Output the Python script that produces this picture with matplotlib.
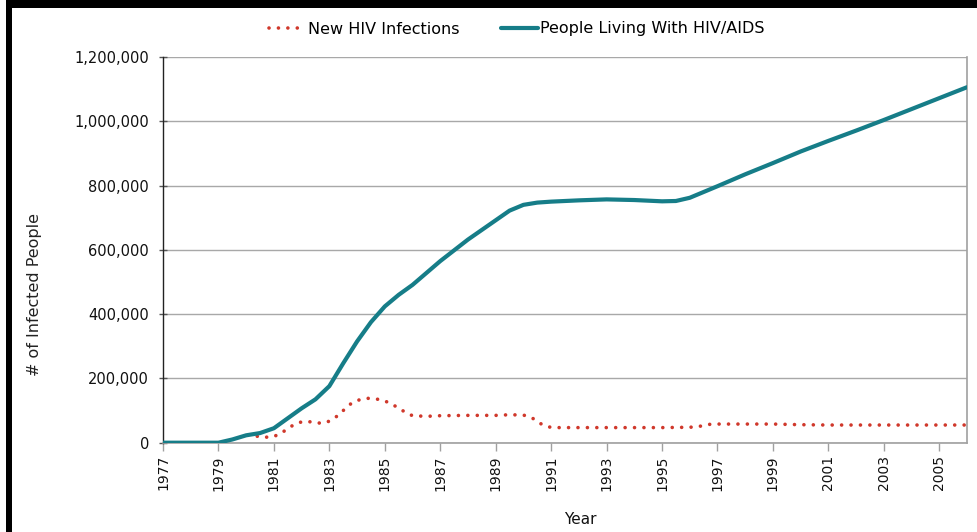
import matplotlib
matplotlib.use("Agg")
import matplotlib.pyplot as plt
from matplotlib.patches import Rectangle

# ---- data ----
living_years = [1977, 1978, 1979, 1979.5, 1980, 1980.5, 1981, 1981.5, 1982, 1982.5,
                1983, 1983.5, 1984, 1984.5, 1985, 1985.5, 1986, 1987, 1988, 1989,
                1989.5, 1990, 1990.5, 1991, 1992, 1993, 1994, 1995, 1995.5, 1996,
                1996.5, 1997, 1998, 1999, 2000, 2001, 2002, 2003, 2004, 2005, 2006]
living_values = [0, 0, 0, 10000, 23000, 30000, 45000, 76000, 107000, 135000,
                 176000, 247000, 315000, 375000, 424000, 460000, 491000, 565000, 632000, 692000,
                 722000, 740000, 747000, 750000, 754000, 757000, 755000, 751000, 752000, 762000,
                 780000, 798000, 835000, 870000, 906000, 939000, 971000, 1004000, 1038000, 1072000, 1106000]

new_years = [1980.4, 1980.7, 1981.0, 1981.3, 1981.7, 1982.0, 1982.3, 1982.6, 1982.9,
             1983.2, 1983.5, 1983.8, 1984.1, 1984.4, 1984.7, 1985.0, 1985.3, 1985.5,
             1985.8, 1986.0, 1986.5, 1987, 1988, 1989, 1989.5, 1990.0, 1990.3, 1990.6,
             1990.9, 1991.2, 1992, 1993, 1994, 1995, 1996, 1996.3, 1996.7, 1997, 1998,
             1999, 2000, 2001, 2002, 2003, 2004, 2005, 2006]
new_values = [20000, 17000, 19000, 32000, 55000, 65000, 65000, 61000, 63000,
              77000, 100000, 123000, 134000, 138000, 136000, 130000, 118000, 107000,
              92000, 84000, 82000, 84000, 85000, 85000, 87000, 86000, 78000, 60000,
              49000, 47000, 47000, 47000, 47000, 47000, 48000, 50000, 57000, 58000, 58000,
              58000, 56000, 55000, 55000, 55000, 55000, 55000, 55000]

x_ticks = list(range(1977, 2006, 2))
y_ticks = [0, 200000, 400000, 600000, 800000, 1000000, 1200000]

series_names = ["New HIV Infections", "People Living With HIV/AIDS"]

W, H = 977, 532
fig = plt.figure(figsize=(W / 100, H / 100), dpi=100)
fig.patch.set_facecolor("white")

left, right, top, bottom = 163, 967, 57, 442.7
ax = fig.add_axes([left / W, 1 - bottom / H, (right - left) / W, (bottom - top) / H])

red = "#D0382B"
teal = "#167D88"

l_new, = ax.plot(new_years, new_values, color=red, lw=2.6, linestyle=(0, (0.01, 2.6)),
                 dash_capstyle="round", zorder=3, label=series_names[0])
l_liv, = ax.plot(living_years, living_values, color=teal, lw=3.0, solid_capstyle="round",
                 solid_joinstyle="round", zorder=4, label=series_names[1])

ax.set_xlim(1977, 2006)
ax.set_ylim(0, 1200000)
ax.set_xticks(x_ticks)
ax.set_xticklabels([str(t) for t in x_ticks], rotation=90, fontsize=10, color="#111111")
ax.set_yticks(y_ticks)
ax.set_yticklabels([f"{v:,}" for v in y_ticks], fontsize=10.5, color="#111111")

ax.grid(axis="y", color="#A8A8A8", lw=1.0)
ax.set_axisbelow(True)
ax.spines["top"].set_visible(False)
ax.spines["left"].set_color("#222222")
ax.spines["left"].set_linewidth(1.0)
ax.spines["bottom"].set_color("#A0A0A0")
ax.spines["right"].set_color("#A0A0A0")
ax.spines["bottom"].set_linewidth(1.2)
ax.spines["right"].set_linewidth(1.2)
ax.tick_params(axis="y", direction="inout", length=6, width=1, color="#555555", pad=7)
ax.tick_params(axis="x", direction="out", length=6, width=1, color="#A0A0A0", pad=3)

fig.text(35 / W, 1 - 295 / H, "# of Infected People", rotation=90, ha="center", va="center",
         fontsize=11.5, color="#222222")
fig.text(580 / W, 1 - 520 / H, "Year", ha="center", va="center", fontsize=11, color="#111111")

fig.legend(handles=[l_new, l_liv], labels=series_names, loc="center",
           bbox_to_anchor=(517 / W, 1 - 29 / H), ncol=2, frameon=False, fontsize=11.5,
           handlelength=2.3, handletextpad=0.15, columnspacing=2.6)

# black border pieces of the original picture
fig.patches.append(Rectangle((6 / W, 0), 6 / W, 1, transform=fig.transFigure,
                             facecolor="black", edgecolor="none", zorder=10))
fig.patches.append(Rectangle((6 / W, 1 - 8 / H), 1, 8 / H, transform=fig.transFigure,
                             facecolor="black", edgecolor="none", zorder=10))

fig.savefig("out.png", dpi=100)
